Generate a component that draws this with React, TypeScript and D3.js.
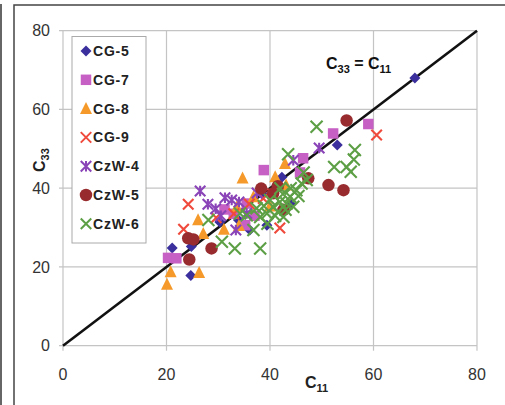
import * as d3 from "d3";
import * as React from "react";

type Pt = [number, number];

const ticks = [0, 20, 40, 60, 80];

const cg5: Pt[] = [[68, 68], [53, 51], [21.1, 24.8], [24.7, 17.8], [36.1, 29.4], [39.4, 30.6], [42.3, 42.8], [33.9, 31.9], [30.3, 31.4], [24.8, 25.2], [38.5, 38.5], [44, 36]];
const cg7: Pt[] = [[59, 56.3], [52.2, 53.9], [46.4, 47.6], [38.8, 44.6], [20.3, 22.3], [21.9, 22.2], [31.2, 34.6], [35.5, 36.1], [35.2, 30.6], [45.8, 44], [37, 33], [33, 33.5]];
const cg8: Pt[] = [[34.7, 42.6], [20.1, 15.6], [20.8, 18.8], [26.3, 18.6], [26.1, 32], [31.1, 29.6], [42.9, 46.3], [43.1, 40.8], [41, 42.9], [27.1, 28.5], [33.6, 35.3], [36.8, 37.8], [34, 30.5], [40, 35.5]];
const cg9: Pt[] = [[60.6, 53.5], [41.9, 29.9], [24.2, 35.9], [23.3, 29.6], [29.6, 32.5], [38.7, 37.4], [33, 33.5], [36, 36], [40.5, 38.5]];
const czw4: Pt[] = [[26.5, 39.3], [28, 35.9], [29.5, 34.8], [31.3, 37.6], [32.6, 37], [33.4, 29.4], [35.5, 33.6], [49.5, 50.2], [44.5, 47.1], [30.5, 33], [34, 36.5], [37.5, 38.8]];
const czw5: Pt[] = [[54.8, 57.2], [51.3, 40.8], [54.2, 39.5], [24.2, 27.3], [25.2, 27], [24.4, 21.9], [28.7, 24.7], [38.3, 39.9], [47.4, 42.5], [42.6, 34.5], [40.6, 38.7], [41.5, 40.5]];
const czw6: Pt[] = [[49, 55.6], [56.4, 49.7], [52.4, 45.4], [54.8, 45.4], [56.2, 47.3], [55.6, 44.2], [43.5, 48.6], [38.1, 24.7], [30.7, 26.4], [33.2, 24.7], [28.1, 31.9], [34.2, 33.6], [35.5, 33.1], [38.1, 32.7], [39.4, 33.6], [40.6, 35.3], [41.9, 36.5], [43.2, 36.1], [43.9, 37.8], [45.1, 39.5], [46.1, 41.2], [47.1, 42.1], [44.5, 35.3], [42.6, 32.7], [40, 37], [37.4, 34.9], [36.8, 29.4], [39.5, 31], [41, 33], [42.5, 38.5], [44, 40], [46.5, 44], [41.5, 34], [43, 34.5], [45.5, 38], [42, 40], [38.8, 35.5]];

const seriesNames = ["CG-5", "CG-7", "CG-8", "CG-9", "CzW-4", "CzW-5", "CzW-6"];
const seriesData = [cg5, cg7, cg8, cg9, czw4, czw5, czw6];
const shapes = ["diamond", "square", "triangle", "x", "star", "circle", "x"];
const colors = ["#3a2f9c", "#c760c4", "#f59a2a", "#ef4a3c", "#8a44b8", "#982b2e", "#5d9f45"];

const font = "Arial, 'Liberation Sans', sans-serif";

// marker path centred on 0,0
function markerPath(shape: string, s: number): string {
    const h = s / 2;
    switch (shape) {
        case "diamond": return `M0,${-h}L${h},0L0,${h}L${-h},0Z`;
        case "square": return `M${-h},${-h}H${h}V${h}H${-h}Z`;
        case "triangle": return `M0,${-h - 1}L${h + 0.5},${h}L${-h - 0.5},${h}Z`;
        case "x": return `M${-h},${-h}L${h},${h}M${h},${-h}L${-h},${h}`;
        case "star": return `M${-h},${-h}L${h},${h}M${h},${-h}L${-h},${h}M0,${-h}V${h}`;
        default: return d3.symbol(d3.symbolCircle, Math.PI * h * h)()!;
    }
}

function isStroke(shape: string) {
    return shape === "x" || shape === "star";
}

const shapeSize: Record<string, number> = { diamond: 11, square: 10.5, triangle: 11, x: 10.5, star: 10.5, circle: 12.5 };

export default class App extends React.Component<{}, {}> {
    mountRef: HTMLDivElement | null = null;

    componentDidMount() {
        const width = 505, height = 405;
        const x = d3.scaleLinear().domain([0, 80]).range([63, 477]);
        const y = d3.scaleLinear().domain([0, 80]).range([345.7, 30.7]);

        d3.select(this.mountRef).selectAll("*").remove();
        const svg = d3.select(this.mountRef)
            .append("svg")
            .attr("width", width)
            .attr("height", height)
            .style("position", "absolute")
            .style("left", "0px")
            .style("top", "0px")
            .style("font-family", font);

        svg.append("rect").attr("width", width).attr("height", height).attr("fill", "#fff");

        // outer frame
        svg.append("line").attr("x1", 1).attr("x2", 1).attr("y1", 4).attr("y2", height).attr("stroke", "#333").attr("stroke-width", 1.5);
        svg.append("path").attr("d", `M14,${height}V5H${width + 2}`).attr("fill", "none").attr("stroke", "#444").attr("stroke-width", 1.5);

        // grid
        const grid = svg.append("g").attr("stroke", "#c4c4c4").attr("stroke-width", 1.2);
        grid.selectAll("line.v").data(ticks).join("line")
            .attr("x1", d => x(d)).attr("x2", d => x(d))
            .attr("y1", y(80)).attr("y2", y(0) + 5);
        grid.selectAll("line.h").data(ticks).join("line").attr("class", "h")
            .attr("x1", x(0) - 4).attr("x2", x(80))
            .attr("y1", d => y(d)).attr("y2", d => y(d));

        // tick labels
        svg.append("g").selectAll("text").data(ticks).join("text")
            .attr("x", 50).attr("y", d => y(d)).attr("dy", "0.35em")
            .attr("text-anchor", "end").attr("font-size", 16).attr("fill", "#333")
            .text(d => d);
        svg.append("g").selectAll("text").data(ticks).join("text")
            .attr("x", d => x(d)).attr("y", 380)
            .attr("text-anchor", "middle").attr("font-size", 16).attr("fill", "#333")
            .text(d => d);

        // 1:1 line
        svg.append("line")
            .attr("x1", x(0)).attr("y1", y(0)).attr("x2", x(80)).attr("y2", y(80))
            .attr("stroke", "#111").attr("stroke-width", 2.6);

        // points
        seriesData.forEach((data, i) => {
            const shape = shapes[i];
            const stroke = isStroke(shape);
            svg.append("g").selectAll("path").data(data).join("path")
                .attr("transform", d => `translate(${x(d[0])},${y(d[1])})`)
                .attr("d", markerPath(shape, shapeSize[shape] + (i === 6 ? 1.5 : 0)))
                .attr("fill", stroke ? "none" : colors[i])
                .attr("stroke", stroke ? colors[i] : "none")
                .attr("stroke-width", stroke ? 2.1 : 0);
        });

        // label on the line
        const lbl = svg.append("text").attr("x", 326).attr("y", 69)
            .attr("font-size", 16).attr("font-weight", "bold").attr("fill", "#111");
        lbl.append("tspan").text("C");
        lbl.append("tspan").attr("font-size", 11).attr("dy", 4).text("33");
        lbl.append("tspan").attr("dy", -4).text(" = C");
        lbl.append("tspan").attr("font-size", 11).attr("dy", 4).text("11");

        // axis titles
        const xt = svg.append("text").attr("x", 305).attr("y", 388)
            .attr("font-size", 16).attr("font-weight", "bold").attr("fill", "#222");
        xt.append("tspan").text("C");
        xt.append("tspan").attr("font-size", 11).attr("dy", 4).text("11");

        const yt = svg.append("text").attr("transform", "translate(45,172) rotate(-90)")
            .attr("font-size", 16).attr("font-weight", "bold").attr("fill", "#222");
        yt.append("tspan").text("C");
        yt.append("tspan").attr("font-size", 11).attr("dy", 4).text("33");

        // legend
        const lg = svg.append("g");
        lg.append("rect").attr("x", 72).attr("y", 36.5).attr("width", 74).attr("height", 206.5)
            .attr("fill", "#fff").attr("stroke", "#aaa").attr("stroke-width", 1);
        const entry = lg.selectAll("g").data(seriesNames).join("g")
            .attr("transform", (_, i) => `translate(86,${51 + i * 28.8})`);
        entry.append("path")
            .attr("d", (_, i) => markerPath(shapes[i], shapeSize[shapes[i]]))
            .attr("fill", (_, i) => isStroke(shapes[i]) ? "none" : colors[i])
            .attr("stroke", (_, i) => isStroke(shapes[i]) ? colors[i] : "none")
            .attr("stroke-width", 2);
        entry.append("text").attr("x", 7).attr("dy", "0.36em")
            .attr("font-size", 14).attr("font-weight", "bold").attr("letter-spacing", 0.8)
            .attr("fill", "#222").text(d => d);
    }

    render() {
        return <div ref={ref => { this.mountRef = ref; }} />;
    }
}
